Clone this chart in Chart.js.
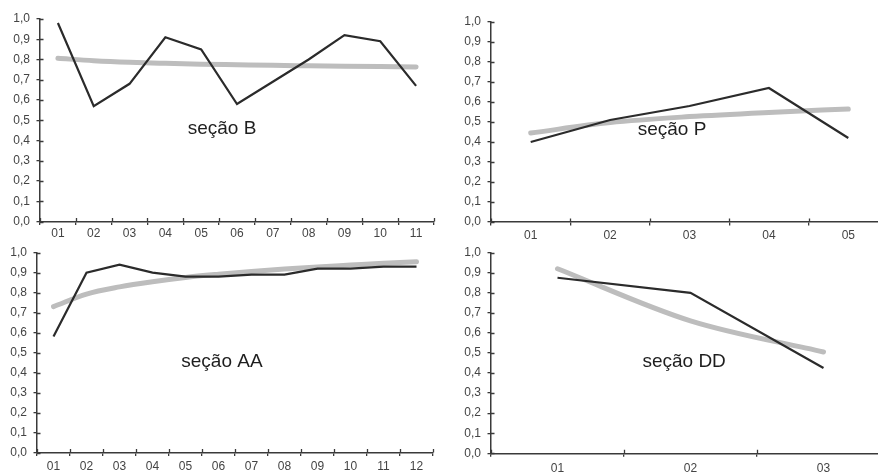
<!DOCTYPE html>
<html>
<head>
<meta charset="utf-8">
<script src="https://cdn.jsdelivr.net/npm/chart.js@4/dist/chart.umd.min.js"></script>
<style>
  html, body { margin: 0; padding: 0; background: #fff; }
  body { width: 878px; height: 472px; overflow: hidden; position: relative; }
  canvas { position: absolute; }
</style>
</head>
<body>
<canvas id="chartB" width="440" height="245" style="left:0;top:0"></canvas>
<canvas id="chartP" width="460" height="245" style="left:440px;top:0"></canvas>
<canvas id="chartAA" width="440" height="242" style="left:0;top:230px"></canvas>
<canvas id="chartDD" width="460" height="262" style="left:440px;top:230px"></canvas>
<script>
  // seção B
  const labelsB = ["01", "02", "03", "04", "05", "06", "07", "08", "09", "10", "11"];
  const valuesB = [0.98, 0.57, 0.68, 0.91, 0.85, 0.58, 0.69, 0.80, 0.92, 0.89, 0.67];
  const trendB = [0.806, 0.794, 0.786, 0.781, 0.777, 0.774, 0.771, 0.769, 0.767, 0.765, 0.763];

  // seção P
  const labelsP = ["01", "02", "03", "04", "05"];
  const valuesP = [0.40, 0.51, 0.58, 0.67, 0.42];
  const trendP = [0.445, 0.497, 0.527, 0.548, 0.565];

  // seção AA
  const labelsAA = ["01", "02", "03", "04", "05", "06", "07", "08", "09", "10", "11", "12"];
  const valuesAA = [0.58, 0.90, 0.94, 0.90, 0.88, 0.88, 0.89, 0.89, 0.92, 0.92, 0.93, 0.93];
  const trendAA = [0.73, 0.793, 0.829, 0.855, 0.876, 0.892, 0.906, 0.918, 0.929, 0.938, 0.947, 0.955];

  // seção DD
  const labelsDD = ["01", "02", "03"];
  const valuesDD = [0.875, 0.80, 0.425];
  const trendDD = [0.92, 0.66, 0.505];

  const axisColor = "#3a3a3a";
  const textColor = "#444";

  // small tick marks that also poke into the plot area
  const crossTicks = {
    id: "crossTicks",
    afterDraw(chart) {
      const ctx = chart.ctx;
      const x = chart.scales.x;
      const y = chart.scales.y;
      const area = chart.chartArea;
      ctx.save();
      ctx.strokeStyle = axisColor;
      ctx.lineWidth = 1.3;
      ctx.beginPath();
      for (let i = 0; i <= chart.data.labels.length; i++) {
        const px = Math.round(x.getPixelForValue(i - 0.5)) + 0.5;
        ctx.moveTo(px, area.bottom);
        ctx.lineTo(px, area.bottom - 3.5);
      }
      y.ticks.forEach((t) => {
        const py = Math.round(y.getPixelForValue(t.value)) + 0.5;
        ctx.moveTo(area.left, py);
        ctx.lineTo(area.left + 3.5, py);
      });
      ctx.stroke();
      ctx.restore();
    },
  };

  // section name written inside the plot
  const sectionName = {
    id: "sectionName",
    afterDatasetsDraw(chart, args, opts) {
      const ctx = chart.ctx;
      const area = chart.chartArea;
      ctx.save();
      ctx.fillStyle = "#1e1e1e";
      ctx.font = "19px 'Liberation Sans', Arial, sans-serif";
      ctx.textAlign = "center";
      ctx.textBaseline = "middle";
      const px = area.left + opts.fx * (area.right - area.left);
      const py = chart.scales.y.getPixelForValue(opts.value);
      ctx.fillText(opts.text, px, py);
      ctx.restore();
    },
  };

  function makeChart(id, labels, values, trend, cfg) {
    const canvas = document.getElementById(id);
    return new Chart(canvas.getContext("2d"), {
      type: "line",
      data: {
        labels: labels,
        datasets: [
          {
            data: values,
            borderColor: "#2b2b2b",
            borderWidth: 2.2,
            pointRadius: 0,
            tension: 0,
            order: 1,
          },
          {
            data: trend,
            borderColor: "#bdbdbd",
            borderWidth: 5,
            borderCapStyle: "round",
            pointRadius: 0,
            cubicInterpolationMode: "monotone",
            order: 2,
          },
        ],
      },
      options: {
        responsive: false,
        animation: false,
        layout: { padding: { top: cfg.top, right: cfg.right, left: 0, bottom: 0 } },
        plugins: {
          legend: { display: false },
          tooltip: { enabled: false },
          sectionName: { text: cfg.name, fx: cfg.fx, value: cfg.value },
        },
        scales: {
          x: {
            type: "category",
            offset: true,
            afterFit: (s) => { s.height = cfg.xh; },
            grid: { offset: true, drawOnChartArea: false, tickLength: 3.5, color: axisColor, lineWidth: 1.3 },
            border: { color: axisColor, width: 1.5 },
            ticks: {
              color: textColor,
              padding: cfg.xpad,
              maxRotation: 0,
              autoSkip: false,
              font: { family: "'Liberation Sans', Arial, sans-serif", size: 12 },
            },
          },
          y: {
            min: 0,
            max: 1,
            afterFit: (s) => { s.width = cfg.yw; },
            grid: { drawOnChartArea: false, tickLength: 3.5, color: axisColor, lineWidth: 1.3 },
            border: { color: axisColor, width: 1.5 },
            ticks: {
              stepSize: 0.1,
              color: textColor,
              padding: 6.5,
              font: { family: "'Liberation Sans', Arial, sans-serif", size: 12 },
              callback: (v) => v.toFixed(1).replace(".", ","),
            },
          },
        },
      },
      plugins: [crossTicks, sectionName],
    });
  }

  makeChart("chartB", labelsB, valuesB, trendB,
    { name: "seção B", fx: 0.462, value: 0.46, top: 19, right: 6, yw: 40, xh: 23.5, xpad: 1 });
  makeChart("chartP", labelsP, valuesP, trendP,
    { name: "seção P", fx: 0.456, value: 0.46, top: 22, right: 12, yw: 51, xh: 23, xpad: 3 });
  makeChart("chartAA", labelsAA, valuesAA, trendAA,
    { name: "seção AA", fx: 0.467, value: 0.455, top: 22.7, right: 7, yw: 37, xh: 19.5, xpad: 3 });
  makeChart("chartDD", labelsDD, valuesDD, trendDD,
    { name: "seção DD", fx: 0.484, value: 0.455, top: 22.7, right: 10, yw: 51, xh: 38.7, xpad: 5 });
</script>
</body>
</html>
